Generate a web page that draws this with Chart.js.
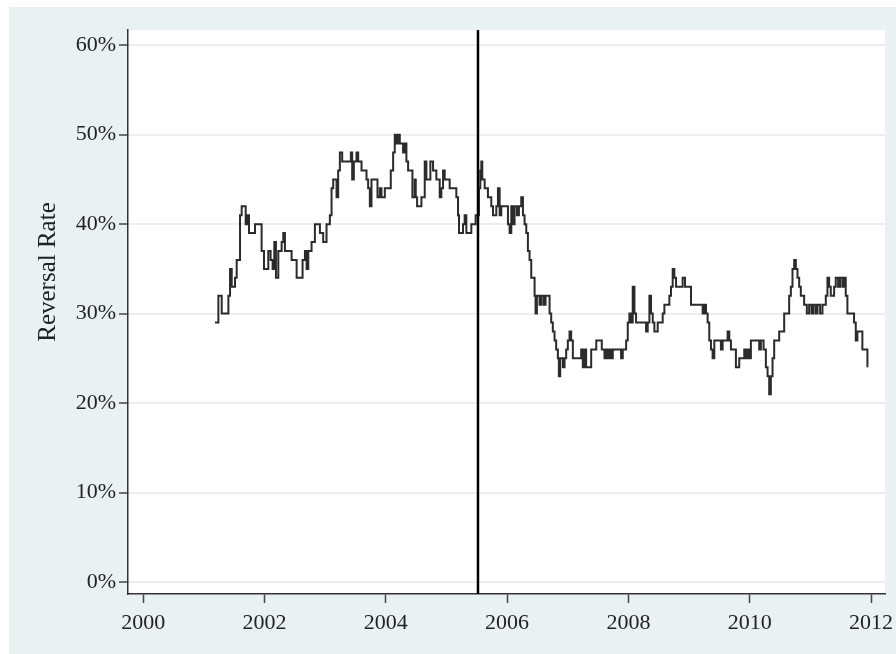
<!DOCTYPE html>
<html>
<head>
<meta charset="utf-8">
<title>Reversal Rate</title>
<script src="https://cdn.jsdelivr.net/npm/chart.js@4"></script>
<style>
  html, body { margin: 0; padding: 0; background: #fff; }
  #wrap { position: absolute; left: 9px; top: 7px; width: 887px; height: 647px; }
</style>
</head>
<body>
<div id="wrap"><canvas id="rateChart" width="887" height="647"></canvas></div>
<script>
// decimal year at which each new rate starts
const yearPoints = [
  2001.185, 2001.240, 2001.295, 2001.405, 2001.432, 2001.460, 2001.514, 2001.542, 2001.597, 2001.624,
  2001.690, 2001.717, 2001.745, 2001.844, 2001.953, 2001.992, 2002.063, 2002.101, 2002.134, 2002.162,
  2002.189, 2002.228, 2002.283, 2002.310, 2002.337, 2002.447, 2002.530, 2002.628, 2002.667, 2002.694,
  2002.722, 2002.776, 2002.831, 2002.914, 2002.968, 2003.023, 2003.078, 2003.106, 2003.133, 2003.188,
  2003.215, 2003.243, 2003.281, 2003.424, 2003.446, 2003.473, 2003.517, 2003.545, 2003.600, 2003.682,
  2003.709, 2003.737, 2003.764, 2003.863, 2003.901, 2003.929, 2003.984, 2004.082, 2004.121, 2004.148,
  2004.176, 2004.203, 2004.231, 2004.285, 2004.313, 2004.340, 2004.368, 2004.439, 2004.477, 2004.494,
  2004.516, 2004.587, 2004.642, 2004.669, 2004.735, 2004.779, 2004.834, 2004.889, 2004.916, 2004.944,
  2004.971, 2005.053, 2005.163, 2005.191, 2005.207, 2005.273, 2005.300, 2005.328, 2005.410, 2005.481,
  2005.536, 2005.558, 2005.575, 2005.591, 2005.630, 2005.684, 2005.739, 2005.767, 2005.822, 2005.849,
  2005.877, 2005.904, 2006.014, 2006.041, 2006.069, 2006.096, 2006.123, 2006.162, 2006.195, 2006.233,
  2006.261, 2006.288, 2006.316, 2006.343, 2006.370, 2006.398, 2006.453, 2006.469, 2006.491, 2006.535,
  2006.563, 2006.601, 2006.634, 2006.700, 2006.727, 2006.754, 2006.782, 2006.809, 2006.837, 2006.853,
  2006.875, 2006.919, 2006.947, 2006.974, 2007.001, 2007.029, 2007.056, 2007.084, 2007.221, 2007.248,
  2007.276, 2007.303, 2007.386, 2007.470, 2007.561, 2007.605, 2007.632, 2007.660, 2007.687, 2007.715,
  2007.742, 2007.879, 2007.907, 2007.962, 2007.989, 2008.016, 2008.044, 2008.071, 2008.099, 2008.126,
  2008.291, 2008.318, 2008.346, 2008.373, 2008.401, 2008.428, 2008.483, 2008.565, 2008.593, 2008.675,
  2008.702, 2008.730, 2008.757, 2008.785, 2008.894, 2008.933, 2009.032, 2009.224, 2009.251, 2009.279,
  2009.306, 2009.333, 2009.361, 2009.388, 2009.416, 2009.525, 2009.553, 2009.635, 2009.663, 2009.690,
  2009.772, 2009.827, 2009.910, 2009.937, 2009.964, 2009.992, 2010.019, 2010.156, 2010.184, 2010.228,
  2010.266, 2010.294, 2010.321, 2010.348, 2010.376, 2010.403, 2010.486, 2010.568, 2010.650, 2010.678,
  2010.705, 2010.733, 2010.760, 2010.787, 2010.815, 2010.842, 2010.897, 2010.941, 2010.979, 2011.018,
  2011.051, 2011.089, 2011.117, 2011.160, 2011.199, 2011.254, 2011.281, 2011.309, 2011.336, 2011.391,
  2011.418, 2011.457, 2011.490, 2011.528, 2011.556, 2011.583, 2011.610, 2011.720, 2011.748, 2011.775,
  2011.857, 2011.940
];

// reversal rate in percent
const reversalRates = [
  29, 32, 30, 32, 35, 33, 34, 36, 41, 42,
  40, 41, 39, 40, 37, 35, 37, 36, 35, 38,
  34, 37, 38, 39, 37, 36, 34, 36, 37, 35,
  37, 38, 40, 39, 38, 40, 41, 44, 45, 43,
  46, 48, 47, 48, 45, 47, 48, 47, 46, 45,
  44, 42, 45, 43, 44, 43, 44, 46, 48, 50,
  49, 50, 49, 48, 49, 47, 46, 43, 45, 43,
  42, 43, 47, 45, 47, 46, 45, 43, 44, 46,
  45, 44, 43, 41, 39, 40, 41, 39, 40, 41,
  44, 46, 47, 45, 44, 43, 42, 41, 42, 44,
  41, 42, 40, 39, 42, 40, 42, 41, 42, 43,
  41, 40, 39, 37, 36, 34, 32, 30, 32, 31,
  32, 31, 32, 30, 29, 28, 27, 26, 25, 23,
  25, 24, 25, 26, 27, 28, 27, 25, 26, 24,
  26, 24, 26, 27, 26, 25, 26, 25, 26, 25,
  26, 25, 26, 27, 29, 30, 29, 33, 30, 29,
  28, 29, 32, 30, 29, 28, 29, 30, 31, 32,
  33, 35, 34, 33, 34, 33, 31, 30, 31, 30,
  29, 27, 26, 25, 27, 26, 27, 28, 27, 26,
  24, 25, 26, 25, 26, 25, 27, 26, 27, 26,
  24, 23, 21, 23, 25, 27, 28, 30, 32, 33,
  35, 36, 35, 34, 33, 32, 31, 30, 31, 30,
  31, 30, 31, 30, 31, 32, 34, 33, 32, 33,
  34, 33, 34, 33, 34, 32, 30, 29, 27, 28,
  26, 24
];

const xTicks = [2000, 2002, 2004, 2006, 2008, 2010, 2012];
const yTicks = [0, 10, 20, 30, 40, 50, 60];
const breakYear = 2005.52;

Chart.defaults.font.family = "'Liberation Serif', 'Times New Roman', serif";
Chart.defaults.color = '#222';

// light panel behind everything, white plot region
const backdrop = {
  id: 'backdrop',
  beforeDraw(chart) {
    const { ctx, chartArea: a } = chart;
    ctx.save();
    ctx.fillStyle = '#e9f1f3';
    ctx.fillRect(0, 0, chart.width, chart.height);
    ctx.fillStyle = '#ffffff';
    ctx.fillRect(a.left, a.top, a.right - a.left, a.bottom - a.top);
    ctx.restore();
  }
};

// vertical marker line
const breakLine = {
  id: 'breakLine',
  afterDatasetsDraw(chart) {
    const { ctx, chartArea: a, scales } = chart;
    const x = scales.x.getPixelForValue(breakYear);
    ctx.save();
    ctx.strokeStyle = '#000';
    ctx.lineWidth = 2.5;
    ctx.beginPath();
    ctx.moveTo(x, a.top);
    ctx.lineTo(x, a.bottom);
    ctx.stroke();
    ctx.restore();
  }
};

// rotated y title
const yTitle = {
  id: 'yTitle',
  afterDraw(chart) {
    const ctx = chart.ctx;
    ctx.save();
    ctx.translate(39, 265);
    ctx.rotate(-Math.PI / 2);
    ctx.fillStyle = '#222';
    ctx.font = "25px 'Liberation Serif'";
    ctx.textAlign = 'center';
    ctx.textBaseline = 'middle';
    ctx.fillText('Reversal Rate', 0, 0);
    ctx.restore();
  }
};

function renderChart() {
  const ctx = document.getElementById('rateChart').getContext('2d');
  const points = yearPoints.map((yr, i) => ({ x: yr, y: reversalRates[i] }));

  new Chart(ctx, {
    type: 'line',
    data: {
      datasets: [{
        data: points,
        stepped: true,
        borderColor: '#2b2b2b',
        borderWidth: 2,
        pointRadius: 0,
        fill: false
      }]
    },
    options: {
      responsive: false,
      animation: false,
      layout: { padding: { left: 0, top: 23, right: 11, bottom: 0 } },
      plugins: {
        legend: { display: false },
        tooltip: { enabled: false }
      },
      scales: {
        x: {
          type: 'linear',
          min: 1999.75,
          max: 2012.23,
          afterBuildTicks: scale => { scale.ticks = xTicks.map(v => ({ value: v })); },
          afterFit: scale => {
            // keep the edge labels from pulling the plot area in
            scale.height = 60;
            scale.paddingLeft = 0;
            scale.paddingRight = 0;
          },
          ticks: {
            callback: v => String(v),
            font: { size: 22 },
            color: '#222',
            padding: 7,
            maxRotation: 0,
            autoSkip: false
          },
          grid: { drawOnChartArea: false, tickLength: 9, tickColor: '#444', tickWidth: 1.5 },
          border: { color: '#333', width: 1.5 }
        },
        y: {
          min: -1.34,
          max: 61.7,
          afterBuildTicks: scale => { scale.ticks = yTicks.map(v => ({ value: v })); },
          afterFit: scale => {
            scale.width = 119;
            scale.paddingTop = 0;
            scale.paddingBottom = 0;
          },
          ticks: {
            callback: v => v + '%',
            font: { size: 22 },
            color: '#222',
            padding: 3
          },
          grid: { color: '#eeeeee', lineWidth: 2, tickLength: 9, tickColor: '#444', tickWidth: 1.5 },
          border: { color: '#333', width: 1.5 }
        }
      }
    },
    plugins: [backdrop, breakLine, yTitle]
  });
}

document.addEventListener('DOMContentLoaded', renderChart);
</script>
</body>
</html>
